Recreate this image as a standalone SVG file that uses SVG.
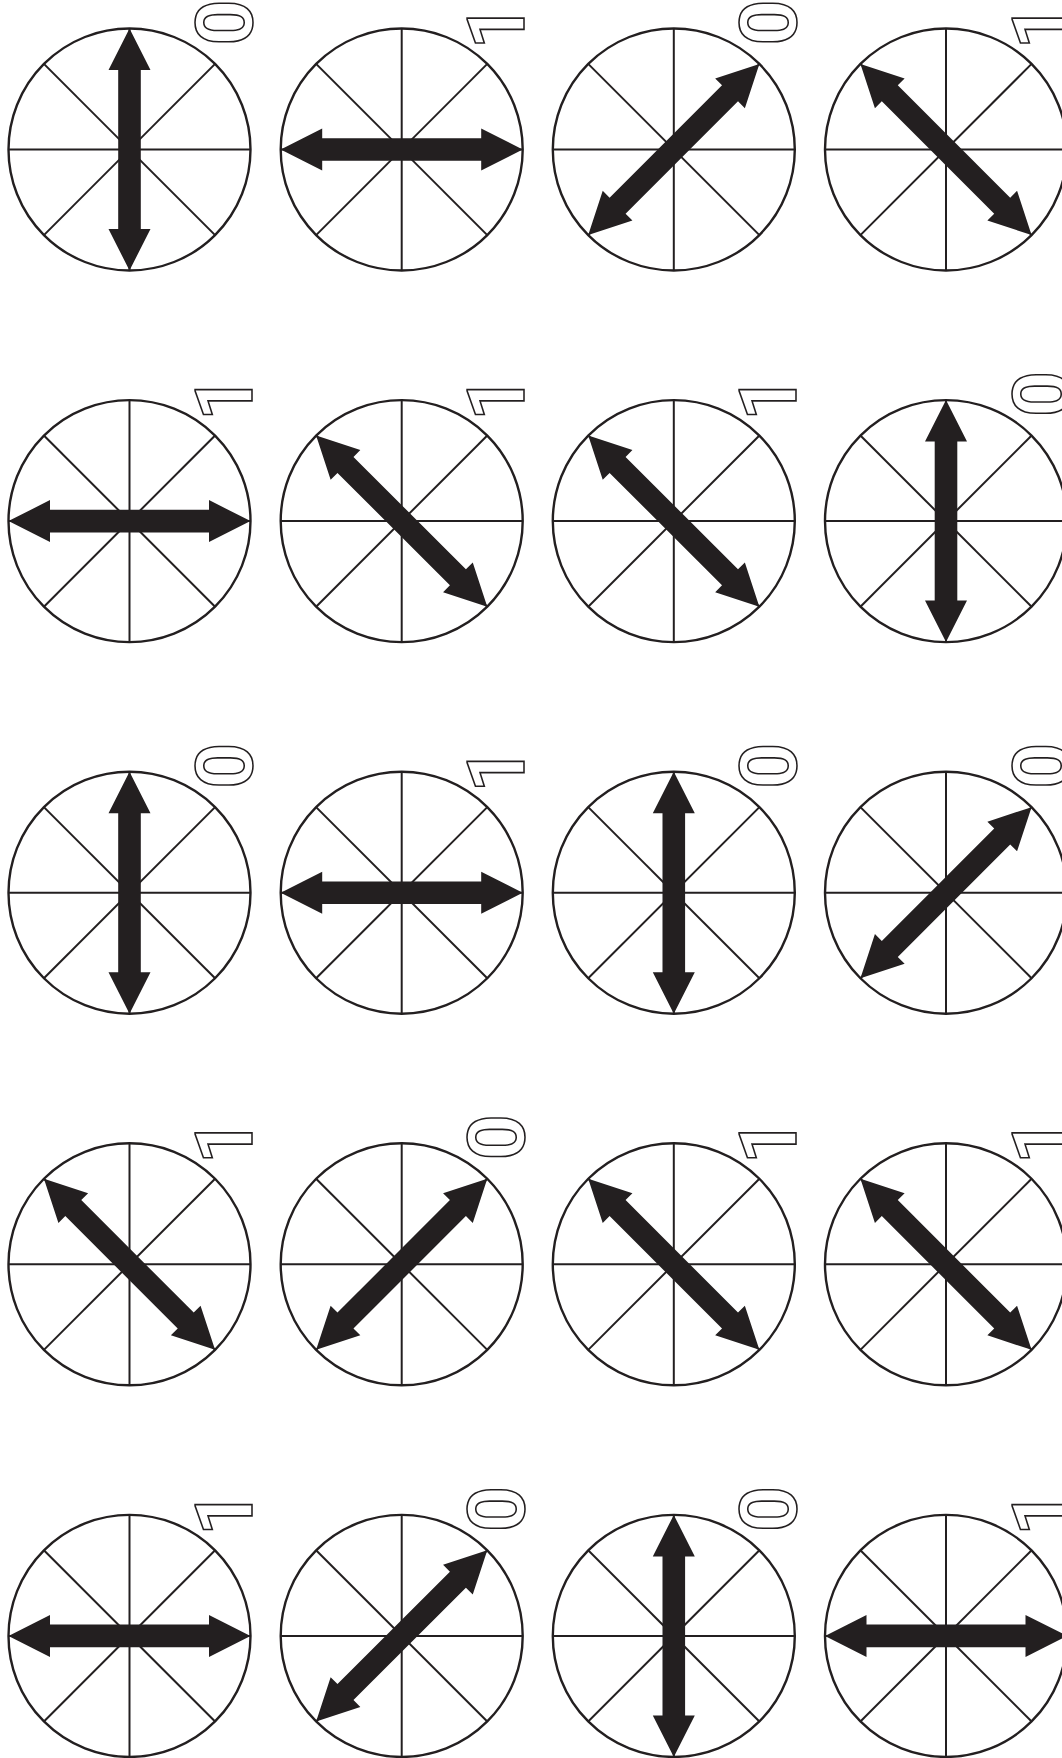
<svg xmlns="http://www.w3.org/2000/svg" xmlns:xlink="http://www.w3.org/1999/xlink" width="1062" height="1758" viewBox="0 0 1062 1758">
<style>
.ring{fill:#fff;stroke:#231f20;stroke-width:2.4}
.spoke{stroke:#231f20;stroke-width:2;fill:none}
.arr{fill:#231f20}
.lbl{font-family:Roboto,'Liberation Sans',sans-serif;font-weight:700;font-size:80px;fill:#fff;stroke:#231f20;stroke-width:1.6}
</style>
<defs>
<g id="dial">
<circle class="ring" cx="0" cy="0" r="121"/>
<line class="spoke" x1="-121" y1="0" x2="121" y2="0"/>
<line class="spoke" x1="0" y1="-121" x2="0" y2="121"/>
<line class="spoke" x1="-85.6" y1="-85.6" x2="85.6" y2="85.6"/>
<line class="spoke" x1="-85.6" y1="85.6" x2="85.6" y2="-85.6"/>
</g>
<path id="arrow" class="arr" d="M0,-121 L21,-79.5 L11.3,-79.5 L11.3,79.5 L21,79.5 L0,121 L-21,79.5 L-11.3,79.5 L-11.3,-79.5 L-21,-79.5 Z"/>
</defs>
<rect width="1062" height="1758" fill="#fff"/>
<g id="connectors"/>

<g id="n1"><g transform="translate(129.5,149.5)"><use href="#dial"/><use href="#arrow" transform="rotate(0)"/><text class="lbl" transform="translate(122.5,-104) rotate(-90)">0</text></g></g>
<g id="n2"><g transform="translate(401.7,149.5)"><use href="#dial"/><use href="#arrow" transform="rotate(90)"/><text class="lbl" transform="translate(122.5,-100) rotate(-90)">1</text></g></g>
<g id="n3"><g transform="translate(673.8,149.5)"><use href="#dial"/><use href="#arrow" transform="rotate(45)"/><text class="lbl" transform="translate(122.5,-104) rotate(-90)">0</text></g></g>
<g id="n4"><g transform="translate(946,149.5)"><use href="#dial"/><use href="#arrow" transform="rotate(-45)"/><text class="lbl" transform="translate(122.5,-100) rotate(-90)">1</text></g></g>

<g id="n5"><g transform="translate(129.5,521.1)"><use href="#dial"/><use href="#arrow" transform="rotate(90)"/><text class="lbl" transform="translate(122.5,-100) rotate(-90)">1</text></g></g>
<g id="n6"><g transform="translate(401.7,521.1)"><use href="#dial"/><use href="#arrow" transform="rotate(-45)"/><text class="lbl" transform="translate(122.5,-100) rotate(-90)">1</text></g></g>
<g id="n7"><g transform="translate(673.8,521.1)"><use href="#dial"/><use href="#arrow" transform="rotate(-45)"/><text class="lbl" transform="translate(122.5,-100) rotate(-90)">1</text></g></g>
<g id="n8"><g transform="translate(946,521.1)"><use href="#dial"/><use href="#arrow" transform="rotate(0)"/><text class="lbl" transform="translate(122.5,-104) rotate(-90)">0</text></g></g>

<g id="n9"><g transform="translate(129.5,892.7)"><use href="#dial"/><use href="#arrow" transform="rotate(0)"/><text class="lbl" transform="translate(122.5,-104) rotate(-90)">0</text></g></g>
<g id="n10"><g transform="translate(401.7,892.7)"><use href="#dial"/><use href="#arrow" transform="rotate(90)"/><text class="lbl" transform="translate(122.5,-100) rotate(-90)">1</text></g></g>
<g id="n11"><g transform="translate(673.8,892.7)"><use href="#dial"/><use href="#arrow" transform="rotate(0)"/><text class="lbl" transform="translate(122.5,-104) rotate(-90)">0</text></g></g>
<g id="n12"><g transform="translate(946,892.7)"><use href="#dial"/><use href="#arrow" transform="rotate(45)"/><text class="lbl" transform="translate(122.5,-104) rotate(-90)">0</text></g></g>

<g id="n13"><g transform="translate(129.5,1264.3)"><use href="#dial"/><use href="#arrow" transform="rotate(-45)"/><text class="lbl" transform="translate(122.5,-100) rotate(-90)">1</text></g></g>
<g id="n14"><g transform="translate(401.7,1264.3)"><use href="#dial"/><use href="#arrow" transform="rotate(45)"/><text class="lbl" transform="translate(122.5,-104) rotate(-90)">0</text></g></g>
<g id="n15"><g transform="translate(673.8,1264.3)"><use href="#dial"/><use href="#arrow" transform="rotate(-45)"/><text class="lbl" transform="translate(122.5,-100) rotate(-90)">1</text></g></g>
<g id="n16"><g transform="translate(946,1264.3)"><use href="#dial"/><use href="#arrow" transform="rotate(-45)"/><text class="lbl" transform="translate(122.5,-100) rotate(-90)">1</text></g></g>

<g id="n17"><g transform="translate(129.5,1635.9)"><use href="#dial"/><use href="#arrow" transform="rotate(90)"/><text class="lbl" transform="translate(122.5,-100) rotate(-90)">1</text></g></g>
<g id="n18"><g transform="translate(401.7,1635.9)"><use href="#dial"/><use href="#arrow" transform="rotate(45)"/><text class="lbl" transform="translate(122.5,-104) rotate(-90)">0</text></g></g>
<g id="n19"><g transform="translate(673.8,1635.9)"><use href="#dial"/><use href="#arrow" transform="rotate(0)"/><text class="lbl" transform="translate(122.5,-104) rotate(-90)">0</text></g></g>
<g id="n20"><g transform="translate(946,1635.9)"><use href="#dial"/><use href="#arrow" transform="rotate(90)"/><text class="lbl" transform="translate(122.5,-100) rotate(-90)">1</text></g></g>
</svg>
